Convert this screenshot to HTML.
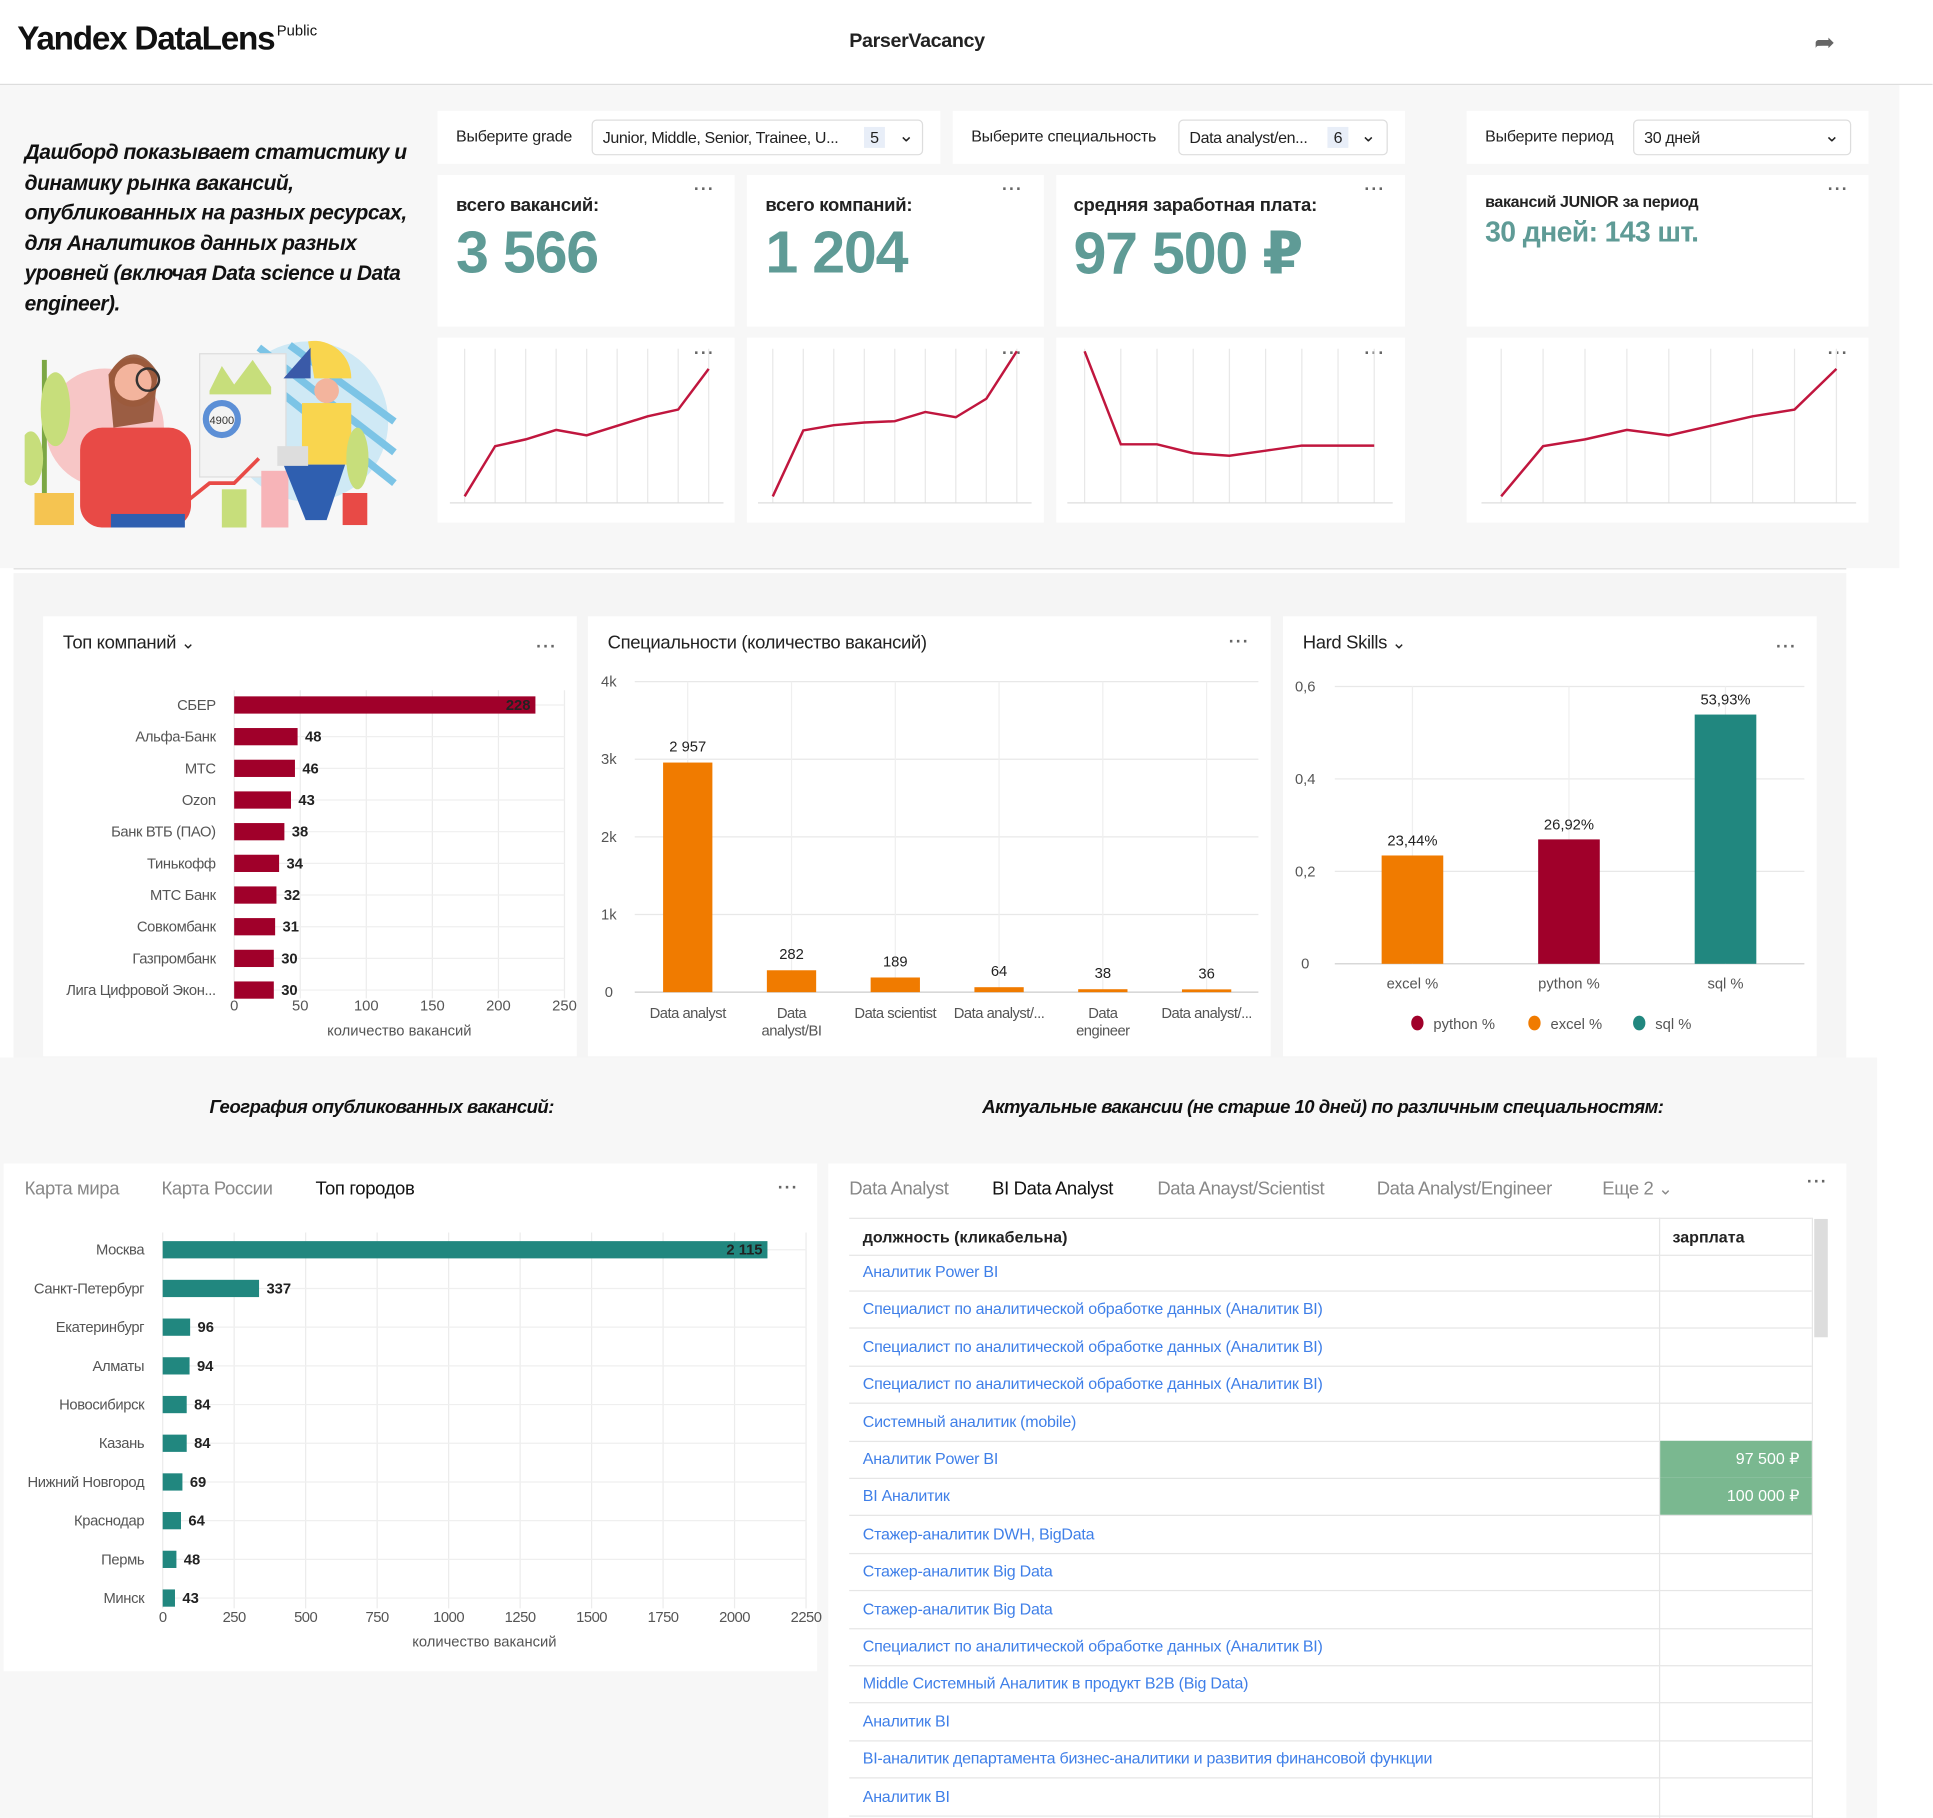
<!DOCTYPE html>
<html><head><meta charset="utf-8">
<style>
html,body{margin:0;padding:0;width:1933px;height:1818px;overflow:hidden;background:#fff;font-family:"Liberation Sans","DejaVu Sans",sans-serif;}
#wrap{position:absolute;left:0;top:0;width:1568px;height:1475px;transform:scale(1.2325,1.2325);transform-origin:0 0;background:#fff;}
.a{position:absolute;}
.card{position:absolute;background:#fff;}
.dots{position:absolute;font-size:14px;color:#666;letter-spacing:1px;font-weight:bold;}
.lbl{position:absolute;font-size:13px;color:#222;white-space:nowrap;letter-spacing:-0.2px;}
.sel{position:absolute;border:1px solid #ddd;border-radius:4px;background:#fff;height:27px;font-size:13px;color:#222;letter-spacing:-0.3px;}
.kpit{position:absolute;font-size:15px;font-weight:bold;color:#222;letter-spacing:-0.2px;}
.kpiv{position:absolute;font-size:48px;font-weight:bold;color:#5f9b96;letter-spacing:-1px;}
.tab{position:absolute;font-size:15px;color:#888;white-space:nowrap;letter-spacing:-0.3px;}
.row{position:absolute;left:689px;width:781px;height:30px;border-bottom:1px solid #e6e6e6;font-size:13px;}
.row a{position:absolute;left:11px;top:7px;color:#3f7fe8;text-decoration:none;white-space:nowrap;letter-spacing:-0.2px;}
svg text{font-family:"Liberation Sans","DejaVu Sans",sans-serif;}
</style></head>
<body>
<div id="wrap">
<div class="a" style="left:0;top:0;width:1568px;height:68px;border-bottom:1px solid #ddd;background:#fff"></div>
<div class="a" style="left:14px;top:16px;font-size:27px;font-weight:bold;color:#111;letter-spacing:-1px">Yandex DataLens<sup style="font-size:12px;font-weight:normal;vertical-align:top;position:relative;top:2px;margin-left:2px;letter-spacing:0">Public</sup></div>
<div class="a" style="left:689px;top:25px;font-size:16px;font-weight:bold;color:#222;letter-spacing:-0.3px">ParserVacancy</div>
<div class="a" style="left:1472px;top:22px;font-size:20px;color:#666">&#x27A6;</div>
<div class="a" style="left:0;top:69px;width:1541px;height:392px;background:#f7f7f7"></div>
<div class="a" style="left:11px;top:461px;width:1487px;height:1px;background:#ddd"></div>
<div class="a" style="left:11px;top:465px;width:1487px;height:393px;background:#f5f5f5"></div>
<div class="a" style="left:0;top:858px;width:1523px;height:617px;background:#f7f7f7"></div>

<div class="a" style="left:20px;top:112px;width:325px;font-size:17px;line-height:24.5px;font-style:italic;font-weight:bold;color:#111;letter-spacing:-0.4px">Дашборд показывает статистику и динамику рынка вакансий, опубликованных на разных ресурсах, для Аналитиков данных разных уровней (включая Data science и Data engineer).</div>

<svg class="a" style="left:20px;top:272px" width="310" height="156">
<circle cx="65" cy="75" r="48" fill="#f7c6c6"/>
<circle cx="230" cy="70" r="65" fill="#cfe9f5"/>
<path d="M175 20 L300 120" stroke="#7cc4e6" stroke-width="6"/>
<path d="M190 10 L300 95" stroke="#7cc4e6" stroke-width="6"/>
<path d="M215 8 L300 70" stroke="#7cc4e6" stroke-width="6"/>
<rect x="14" y="20" width="4" height="120" fill="#7ca744"/>
<ellipse cx="25" cy="60" rx="12" ry="30" fill="#c7de7b"/>
<ellipse cx="5" cy="100" rx="10" ry="22" fill="#c7de7b"/>
<rect x="8" y="128" width="32" height="26" fill="#f5c451"/>
<rect x="45" y="75" width="90" height="81" rx="18" fill="#e84a46"/>
<circle cx="88" cy="38" r="20" fill="#f3b49d"/>
<path d="M68 32 Q88 0 108 30 L104 70 L72 75 Z" fill="#8b4a2b" opacity=".85"/>
<circle cx="88" cy="38" r="15" fill="#f3b49d"/>
<circle cx="100" cy="36" r="9" fill="none" stroke="#333" stroke-width="2"/>
<rect x="70" y="145" width="60" height="11" fill="#2f5fb0"/>
<rect x="142" y="15" width="70" height="100" fill="#f3f3f3" stroke="#ddd"/>
<path d="M150 45 L160 25 L170 40 L185 20 L200 42 L200 48 L150 48 Z" fill="#c7de7b"/>
<circle cx="160" cy="68" r="13" fill="none" stroke="#5c8fd6" stroke-width="5"/>
<text x="150" y="72" font-size="9" fill="#333">4900</text>
<path d="M125 140 L150 120 L170 120 L190 100" stroke="#e84a46" stroke-width="3" fill="none"/>
<rect x="160" y="125" width="20" height="31" fill="#c7de7b"/>
<rect x="192" y="110" width="22" height="46" fill="#f7b4b8"/>
<rect x="225" y="55" width="40" height="50" fill="#f9d54e"/>
<circle cx="245" cy="45" r="10" fill="#f3b49d"/>
<path d="M210 105 L260 105 L245 150 L228 150 Z" fill="#2f5fb0"/>
<rect x="205" y="90" width="25" height="16" fill="#ddd"/>
<path d="M230 5 A30 30 0 0 1 265 35 L235 35 Z" fill="#f9d54e"/>
<path d="M232 10 L232 35 L210 35 Z" fill="#3a5aa8"/>
<rect x="258" y="128" width="20" height="26" fill="#e84a46"/>
<ellipse cx="270" cy="100" rx="9" ry="25" fill="#c7de7b"/>
</svg>

<div class="card" style="left:355px;top:90px;width:408px;height:43px"></div>
<div class="lbl" style="left:370px;top:103px">Выберите grade</div>
<div class="sel" style="left:480px;top:97px;width:267px"><span style="position:absolute;left:8px;top:6px">Junior, Middle, Senior, Trainee, U...</span><span style="position:absolute;left:220px;top:5px;background:#e8eef8;padding:1px 5px">5</span><span style="position:absolute;left:248px;top:3px;font-size:15px">&#x2304;</span></div>
<div class="card" style="left:773px;top:90px;width:367px;height:43px"></div>
<div class="lbl" style="left:788px;top:103px">Выберите специальность</div>
<div class="sel" style="left:956px;top:97px;width:168px"><span style="position:absolute;left:8px;top:6px">Data analyst/en...</span><span style="position:absolute;left:120px;top:5px;background:#e8eef8;padding:1px 5px">6</span><span style="position:absolute;left:147px;top:3px;font-size:15px">&#x2304;</span></div>
<div class="card" style="left:1190px;top:90px;width:326px;height:43px"></div>
<div class="lbl" style="left:1205px;top:103px">Выберите период</div>
<div class="sel" style="left:1325px;top:97px;width:175px"><span style="position:absolute;left:8px;top:6px">30 дней</span><span style="position:absolute;left:154px;top:3px;font-size:15px">&#x2304;</span></div>

<div class="card" style="left:355px;top:142px;width:241px;height:123px"></div>
<div class="kpit" style="left:370px;top:158px">всего вакансий:</div>
<div class="kpiv" style="left:370px;top:178px">3 566</div>
<div class="dots" style="left:563px;top:145px">···</div>
<div class="card" style="left:606px;top:142px;width:241px;height:123px"></div>
<div class="kpit" style="left:621px;top:158px">всего компаний:</div>
<div class="kpiv" style="left:621px;top:178px">1 204</div>
<div class="dots" style="left:813px;top:145px">···</div>
<div class="card" style="left:857px;top:142px;width:283px;height:123px"></div>
<div class="kpit" style="left:871px;top:158px">средняя заработная плата:</div>
<div class="kpiv" style="left:871px;top:178px">97 500 ₽</div>
<div class="dots" style="left:1107px;top:145px">···</div>
<div class="card" style="left:1190px;top:142px;width:326px;height:123px"></div>
<div class="a" style="left:1205px;top:156px;font-size:13px;font-weight:bold;color:#222;letter-spacing:-0.3px">вакансий JUNIOR за период</div>
<div class="a" style="left:1205px;top:175px;font-size:23px;font-weight:bold;color:#5f9b96;letter-spacing:-0.5px">30 дней: 143 шт.</div>
<div class="dots" style="left:1483px;top:145px">···</div>

<div class="card" style="left:355px;top:274px;width:241px;height:150px"></div>
<div class="card" style="left:606px;top:274px;width:241px;height:150px"></div>
<div class="card" style="left:857px;top:274px;width:283px;height:150px"></div>
<div class="card" style="left:1190px;top:274px;width:326px;height:150px"></div>
<div class="dots" style="left:563px;top:278px">···</div>
<div class="dots" style="left:813px;top:278px">···</div>
<div class="dots" style="left:1107px;top:278px">···</div>
<div class="dots" style="left:1483px;top:278px">···</div>
<svg class="a" id="sparks" style="left:0;top:0" width="1543" height="461"></svg>

<div class="card" style="left:35px;top:500px;width:433px;height:357px"></div>
<div class="a" style="left:51px;top:513px;font-size:15px;color:#222;letter-spacing:-0.3px">Топ компаний <span style="font-size:14px">&#x2304;</span></div>
<div class="dots" style="left:435px;top:516px">···</div>
<div class="card" style="left:477px;top:500px;width:554px;height:357px"></div>
<div class="a" style="left:493px;top:513px;font-size:15px;color:#222;letter-spacing:-0.3px">Специальности (количество вакансий)</div>
<div class="dots" style="left:997px;top:512px">···</div>
<div class="card" style="left:1041px;top:500px;width:433px;height:357px"></div>
<div class="a" style="left:1057px;top:513px;font-size:15px;color:#222;letter-spacing:-0.3px">Hard Skills <span style="font-size:14px">&#x2304;</span></div>
<div class="dots" style="left:1441px;top:516px">···</div>
<svg class="a" id="mid" style="left:0;top:0" width="1543" height="860"></svg>

<div class="a" style="left:170px;top:890px;font-size:15px;font-style:italic;font-weight:bold;color:#111;letter-spacing:-0.4px">География опубликованных вакансий:</div>
<div class="a" style="left:797px;top:890px;font-size:15px;font-style:italic;font-weight:bold;color:#111;letter-spacing:-0.4px">Актуальные вакансии (не старше 10 дней) по различным специальностям:</div>

<div class="card" style="left:3px;top:944px;width:660px;height:412px"></div>
<div class="tab" style="left:20px;top:956px">Карта мира</div>
<div class="tab" style="left:131px;top:956px">Карта России</div>
<div class="tab" style="left:256px;top:956px;color:#111">Топ городов</div>
<div class="dots" style="left:631px;top:955px">···</div>
<svg class="a" id="geo" style="left:0;top:0" width="670" height="1360"></svg>

<div class="card" style="left:672px;top:944px;width:826px;height:531px"></div>
<div class="tab" style="left:689px;top:956px">Data Analyst</div>
<div class="tab" style="left:805px;top:956px;color:#111">BI Data Analyst</div>
<div class="tab" style="left:939px;top:956px">Data Anayst/Scientist</div>
<div class="tab" style="left:1117px;top:956px">Data Analyst/Engineer</div>
<div class="tab" style="left:1300px;top:956px">Еще 2 <span style="font-size:14px">&#x2304;</span></div>
<div class="dots" style="left:1466px;top:950px">···</div>
<div class="a" style="left:689px;top:988px;width:781px;height:29px;border-top:1px solid #e6e6e6;border-bottom:1px solid #e6e6e6;font-size:13px;font-weight:bold;color:#222">
<span class="a" style="left:11px;top:7px">должность (кликабельна)</span>
<span class="a" style="left:668px;top:7px">зарплата</span></div>
<div id="rows"></div>
<div class="a" style="left:1346px;top:988px;width:1px;height:487px;background:#e6e6e6"></div>
<div class="a" style="left:1470px;top:988px;width:1px;height:487px;background:#e6e6e6"></div>
<div class="a" style="left:1472px;top:989px;width:11px;height:96px;background:#ddd"></div>
</div>

<script>
const NS='http://www.w3.org/2000/svg';
function mk(p,tag,at,txt){const e=document.createElementNS(NS,tag);for(const k in at)e.setAttribute(k,at[k]);if(txt!==undefined)e.textContent=txt;p.appendChild(e);return e;}

const sparkVacancies=[3,40,45,52,48,55,62,67,97];
const sparkCompanies=[3,53,57,59,60,67,63,77,113];
const sparkSalary=[117,44,44,37,35,39,43,43,43];
const sparkJunior=[3,40,45,52,48,55,62,67,97];

const companies=['СБЕР','Альфа-Банк','МТС','Ozon','Банк ВТБ (ПАО)','Тинькофф','МТС Банк','Совкомбанк','Газпромбанк','Лига Цифровой Экон...'];
const companyValues=[228,48,46,43,38,34,32,31,30,30];
const companyTicks=[0,50,100,150,200,250];

const specialties=[['Data analyst'],['Data','analyst/BI'],['Data scientist'],['Data analyst/...'],['Data','engineer'],['Data analyst/...']];
const specialtyValues=[2957,282,189,64,38,36];
const specialtyLabels=['2 957','282','189','64','38','36'];
const specialtyTicks=[0,1000,2000,3000,4000];
const specialtyTickLabels=['0','1k','2k','3k','4k'];

const skills=['excel %','python %','sql %'];
const skillValues=[0.2344,0.2692,0.5393];
const skillLabels=['23,44%','26,92%','53,93%'];
const skillTicks=[0,0.2,0.4,0.6];
const skillTickLabels=['0','0,2','0,4','0,6'];

const cities=['Москва','Санкт-Петербург','Екатеринбург','Алматы','Новосибирск','Казань','Нижний Новгород','Краснодар','Пермь','Минск'];
const cityValues=[2115,337,96,94,84,84,69,64,48,43];
const cityLabels=['2 115','337','96','94','84','84','69','64','48','43'];
const cityTicks=[0,250,500,750,1000,1250,1500,1750,2000,2250];

const jobTitles=['Аналитик Power BI','Специалист по аналитической обработке данных (Аналитик BI)','Специалист по аналитической обработке данных (Аналитик BI)','Специалист по аналитической обработке данных (Аналитик BI)','Системный аналитик (mobile)','Аналитик Power BI','BI Аналитик','Стажер-аналитик DWH, BigData','Стажер-аналитик Big Data','Стажер-аналитик Big Data','Специалист по аналитической обработке данных (Аналитик BI)','Middle Системный Аналитик в продукт B2B (Big Data)','Аналитик BI','BI-аналитик департамента бизнес-аналитики и развития финансовой функции','Аналитик BI'];
const jobSalaries=['','','','','','97 500 ₽','100 000 ₽','','','','','','','',''];

const sp=document.getElementById('sparks');
function spark(vals,x0,x1,gx0,gx1,minV,maxV,name){
  const n=vals.length, top=283, bot=408;
  const sx=i=>x0+(x1-x0)*i/(n-1);
  const sy=v=>bot-(v-minV)/(maxV-minV)*(bot-top-4)-2;
  for(let i=0;i<n;i++){const g=mk(sp,'line',{x1:sx(i),x2:sx(i),y1:top,y2:bot,stroke:'#e8e8e8'});
    
    }
  const ax=mk(sp,'line',{x1:gx0,x2:gx1,y1:bot,y2:bot,stroke:'#ddd'});
  
  
  const pl=mk(sp,'polyline',{points:vals.map((v,i)=>sx(i)+','+sy(v)).join(' '),fill:'none',stroke:'#c0163e','stroke-width':2});
  
  
}
spark(sparkVacancies,377,575,365,587,0,110,'spark-vacancies');
spark(sparkCompanies,627,825,615,837,0,113,'spark-companies');
spark(sparkSalary,880,1115,866,1130,0,117,'spark-salary');
spark(sparkJunior,1218,1490,1202,1506,0,110,'spark-junior');

const m=document.getElementById('mid');
(function(){
  const x0=190,x1=458,vmax=250,sx=v=>x0+(x1-x0)*v/vmax;
  const yc=i=>572+i*25.7;
  companyTicks.forEach(t=>{const l=mk(m,'line',{x1:sx(t),x2:sx(t),y1:560,y2:810,stroke:'#ececec'});
    
    
    const tx=mk(m,'text',{x:sx(t),y:820,'font-size':12,fill:'#555','text-anchor':'middle'},String(t));
    
    });
  companies.forEach((c,i)=>{
    const hl=mk(m,'line',{x1:x0,x2:x1,y1:yc(i),y2:yc(i),stroke:'#efefef'});
    
    
    const lb=mk(m,'text',{x:175,y:yc(i)+4,'font-size':12,fill:'#555','text-anchor':'end','letter-spacing':'-0.3'},c);
    
    
    const b=mk(m,'rect',{x:x0,y:yc(i)-7,width:sx(companyValues[i])-x0,height:14,fill:'#a0002a'});
    
    
    const inside=companyValues[i]>150;
    const v=mk(m,'text',{x:inside?sx(companyValues[i])-4:sx(companyValues[i])+6,y:yc(i)+4,'font-size':12,'font-weight':'bold',fill:'#222','text-anchor':inside?'end':'start'},String(companyValues[i]));
    
    
  });
  const t=mk(m,'text',{x:324,y:840,'font-size':12,fill:'#555','text-anchor':'middle'},'количество вакансий');
  
  
})();

(function(){
  const y0=805,y4=553,vmax=4000,sy=v=>y0-(y0-y4)*v/vmax;
  const xc=i=>558+i*84.2;
  specialtyTicks.forEach((t,k)=>{const l=mk(m,'line',{x1:515,x2:1021,y1:sy(t),y2:sy(t),stroke:t===0?'#ccc':'#e8e8e8'});
    
    
    const tx=mk(m,'text',{x:494,y:sy(t)+4,'font-size':12,fill:'#555','text-anchor':'middle'},specialtyTickLabels[k]);
    
    });
  specialties.forEach((c,i)=>{
    const vl=mk(m,'line',{x1:xc(i),x2:xc(i),y1:553,y2:805,stroke:'#efefef'});
    
    
  });
  specialties.forEach((c,i)=>{
    const v=specialtyValues[i];
    const b=mk(m,'rect',{x:xc(i)-20,y:sy(v),width:40,height:Math.max(y0-sy(v),2),fill:'#f07b00'});
    
    
    const vt=mk(m,'text',{x:xc(i),y:sy(v)-9,'font-size':12,fill:'#222','text-anchor':'middle'},specialtyLabels[i]);
    
    
    c.forEach((ln,j)=>{const lt=mk(m,'text',{x:xc(i),y:826+j*14,'font-size':12,fill:'#555','text-anchor':'middle','letter-spacing':'-0.4'},ln);
      
      });
  });
})();

(function(){
  const y0=782,ytop=557,vmax=0.6,sy=v=>y0-(y0-ytop)*v/vmax;
  const xc=i=>1146+i*127;
  const cols=['#f07b00','#a0002a','#21877f'];
  skillTicks.forEach((t,k)=>{const l=mk(m,'line',{x1:1083,x2:1464,y1:sy(t),y2:sy(t),stroke:t===0?'#ccc':'#e8e8e8'});
    
    
    const tx=mk(m,'text',{x:1059,y:sy(t)+4,'font-size':12,fill:'#555','text-anchor':'middle'},skillTickLabels[k]);
    
    });
  skills.forEach((s,i)=>{
    const vl=mk(m,'line',{x1:xc(i),x2:xc(i),y1:557,y2:782,stroke:'#efefef'});
    
    
    const v=skillValues[i];
    const b=mk(m,'rect',{x:xc(i)-25,y:sy(v),width:50,height:y0-sy(v),fill:cols[i]});
    
    
    const vt=mk(m,'text',{x:xc(i),y:sy(v)-8,'font-size':12,fill:'#222','text-anchor':'middle'},skillLabels[i]);
    
    
    const lt=mk(m,'text',{x:xc(i),y:802,'font-size':12,fill:'#555','text-anchor':'middle'},s);
    
    
  });
  const leg=[['python %','#a0002a',1150],['excel %','#f07b00',1245],['sql %','#21877f',1330]];
  leg.forEach(l=>{const c=mk(m,'ellipse',{cx:l[2],cy:830,rx:5,ry:6,fill:l[1]});
    
    
    const t=mk(m,'text',{x:l[2]+13,y:835,'font-size':12,fill:'#555'},l[0]);
    
    });
})();

const g=document.getElementById('geo');
(function(){
  const x0=132,x1=654,vmax=2250,sx=v=>x0+(x1-x0)*v/vmax;
  const yc=i=>1014+i*31.4;
  cityTicks.forEach(t=>{const l=mk(g,'line',{x1:sx(t),x2:sx(t),y1:1000,y2:1305,stroke:'#ececec'});
    
    
    const tx=mk(g,'text',{x:sx(t),y:1316,'font-size':12,fill:'#555','text-anchor':'middle','letter-spacing':'-0.4'},String(t));
    
    });
  cities.forEach((c,i)=>{
    const hl=mk(g,'line',{x1:x0,x2:x1,y1:yc(i),y2:yc(i),stroke:'#efefef'});
    
    
    const lb=mk(g,'text',{x:117,y:yc(i)+4,'font-size':12,fill:'#555','text-anchor':'end','letter-spacing':'-0.3'},c);
    
    
    const b=mk(g,'rect',{x:x0,y:yc(i)-7,width:sx(cityValues[i])-x0,height:14,fill:'#21877f'});
    
    
    const inside=cityValues[i]>1500;
    const v=mk(g,'text',{x:inside?sx(cityValues[i])-4:sx(cityValues[i])+6,y:yc(i)+4,'font-size':12,'font-weight':'bold',fill:'#222','text-anchor':inside?'end':'start'},cityLabels[i]);
    
    
  });
  const t=mk(g,'text',{x:393,y:1336,'font-size':12,fill:'#555','text-anchor':'middle'},'количество вакансий');
  
  
})();

const wrap=document.getElementById('wrap');
jobTitles.forEach((t,i)=>{
  const r=document.createElement('div');r.className='row';r.style.top=(1017+i*30.4)+'px';
  
  
  const a=document.createElement('a');a.href='#';a.textContent=t;
  
  
  r.appendChild(a);
  if(jobSalaries[i]){const s=document.createElement('div');
    
    
    s.style.cssText='position:absolute;left:658px;top:0;width:123px;height:30px;background:#7ab890;color:#fff;text-align:right;box-sizing:border-box;padding:7px 10px 0 0;';
    s.textContent=jobSalaries[i];r.appendChild(s);}
  wrap.appendChild(r);
});
</script>
</body></html>
